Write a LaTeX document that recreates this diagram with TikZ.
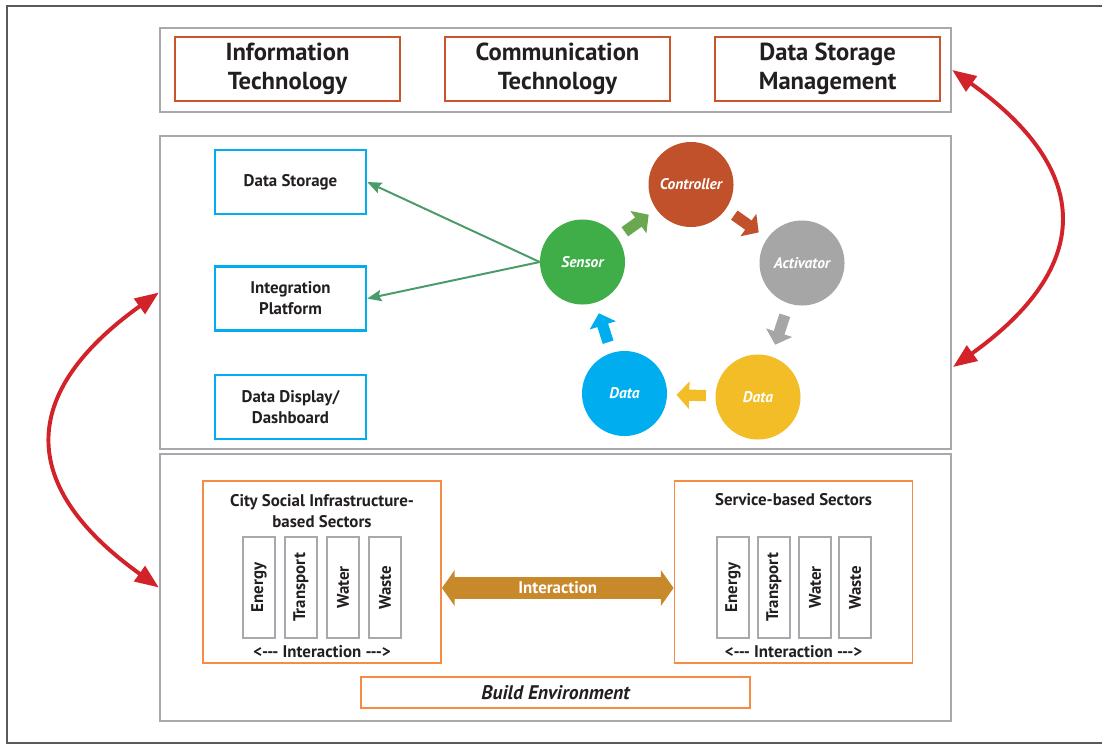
\documentclass[tikz,border=0pt]{standalone}
\usepackage{fontspec}
\setmainfont{PT Sans}
\usetikzlibrary{arrows.meta, positioning, calc}
\definecolor{cInk}{HTML}{231F20}
\definecolor{cFrame}{HTML}{58595B}
\definecolor{cPanel}{HTML}{A7A9AC}
\definecolor{cRust}{HTML}{C8552B}
\definecolor{cSky}{HTML}{00AEEF}
\definecolor{cLeaf}{HTML}{3FAE49}
\definecolor{cLime}{HTML}{6AA84F}
\definecolor{cBrick}{HTML}{C0512A}
\definecolor{cAsh}{HTML}{A6A6A6}
\definecolor{cSun}{HTML}{F2BD26}
\definecolor{cLink}{HTML}{4A9A6A}
\definecolor{cRed}{HTML}{D2232A}
\definecolor{cOrange}{HTML}{F68B45}
\definecolor{cGold}{HTML}{C8892B}
\tikzset{
  frame/.style={draw=cFrame, line width=1.4pt},
  panel/.style={rectangle, draw=cPanel, line width=1.5pt, inner sep=0pt,
    minimum width=19.775cm},
  techbox/.style={rectangle, draw=cRust, line width=1.4pt,
    minimum width=5.625cm, minimum height=1.6cm, align=center, text=cInk,
    font=\fontsize{17.5}{20.5}\selectfont\bfseries},
  appbox/.style={rectangle, draw=cSky, line width=1.8pt,
    minimum width=3.775cm, minimum height=1.6cm, align=center, text=cInk,
    font=\fontsize{12}{15}\selectfont\bfseries},
  stage/.style={circle, fill=#1, minimum size=2.125cm, inner sep=0pt,
    text=white, font=\fontsize{11}{13}\selectfont\bfseries\itshape},
  turn/.style={draw=#1, line width=8pt,
    -{Triangle[length=9pt, width=19pt]}},
  flow/.style={draw=cLink, line width=1.4pt,
    -{Stealth[length=10pt, width=8pt, inset=1.5pt]}},
  swap/.style={draw=cRed, line width=2.8pt,
    {Triangle[length=17pt, width=13pt]}-{Triangle[length=17pt, width=13pt]}},
  sectorbox/.style={rectangle, draw=cOrange, line width=1.3pt,
    minimum width=5.95cm, minimum height=4.55cm},
  bar/.style={rectangle, draw=cPanel, line width=1.3pt, rotate=90,
    minimum width=2.525cm, minimum height=0.8cm, inner sep=0pt, text=cInk,
    font=\fontsize{12}{14}\selectfont\bfseries},
  caption/.style={align=center, text=cInk,
    font=\fontsize{12}{15.5}\selectfont\bfseries},
  link/.style={draw=cGold, line width=15pt,
    {Triangle[length=9pt, width=25pt]}-{Triangle[length=9pt, width=25pt]}},
}

\begin{document}
\begin{tikzpicture}[x=0.025cm, y=-0.025cm]

  \useasboundingbox (0,0) rectangle (1102,745);
  \draw[frame] (1102,6) -- (7,6) -- (7,743) -- (1102,743);

  \node[panel, minimum height=2.1cm] (toppanel) at (555.5,70) {};
  \node[panel, minimum height=7.825cm] (midpanel) at (555.5,292.5) {};
  \node[panel, minimum height=6.675cm] (botpanel) at (555.5,587.5) {};

  \node[techbox] (it) at (287.5,69) {Information\\Technology};
  \node[techbox, right=1.075cm of it] (ct) {Communication\\Technology};
  \node[techbox, right=1.075cm of ct] (dsm) {Data Storage\\Management};

  \node[appbox] (ds) at (290.5,182) {Data Storage};
  \node[appbox, below=1.25cm of ds] (ip) {Integration\\Platform};
  \node[appbox, below=1.05cm of ip] (dd) {Data Display/\\Dashboard};

  \node[stage=cBrick] (ctl) at (691,184.5) {Controller};
  \node[stage=cAsh] (act) at (802,263) {Activator};
  \node[stage=cSun] (dty) at (758,397) {Data};
  \node[stage=cSky] (dtb) at (624.5,393.5) {Data};
  \node[stage=cLeaf] (sen) at (582.5,262) {Sensor};

  \draw[turn=cLime]  ($(sen)!0.39!(ctl)$) -- ($(sen)!0.61!(ctl)$);
  \draw[turn=cBrick] ($(ctl)!0.39!(act)$) -- ($(ctl)!0.61!(act)$);
  \draw[turn=cAsh]   ($(act)!0.39!(dty)$) -- ($(act)!0.61!(dty)$);
  \draw[turn=cSun]   ($(dty)!0.39!(dtb)$) -- ($(dty)!0.61!(dtb)$);
  \draw[turn=cSky]   ($(dtb)!0.39!(sen)$) -- ($(dtb)!0.61!(sen)$);

  \draw[flow] (sen.west) -- (ds.east);
  \draw[flow] (sen.west) -- (ip.east);

  \node[sectorbox] (lsec) at (322,572) {};
  \node[sectorbox] (rsec) at (793.5,572) {};
  \node[caption] (ltitle) at (322,511) {City Social Infrastructure-\\based Sectors};
  \node[caption] (rtitle) at (793.5,500) {Service-based Sectors};

  \node[bar] (le) at (259,587.5) {Energy};
  \node[bar] (lt) at (301,587.5) {Transport};
  \node[bar] (lw) at (343,587.5) {Water};
  \node[bar] (lx) at (385,587.5) {Waste};
  \node[bar] (re) at (733,587.5) {Energy};
  \node[bar] (rt) at (774,587.5) {Transport};
  \node[bar] (rw) at (815,587.5) {Water};
  \node[bar] (rx) at (855,587.5) {Waste};

  \node[caption] (linter) at (322,652) {<-{}-{}- Interaction -{}-{}->};
  \node[caption] (rinter) at (793.5,652) {<-{}-{}- Interaction -{}-{}->};

  \draw[link] ([yshift=-0.4cm]lsec.east) -- ([yshift=-0.4cm]rsec.west)
    node[midway, text=white, font=\fontsize{12}{14}\selectfont\bfseries] (inter) {Interaction};

  \node[rectangle, draw=cOrange, line width=1.3pt, minimum width=9.725cm,
    minimum height=0.775cm, text=cInk,
    font=\fontsize{14}{16}\selectfont\bfseries\itshape] (build) at (555.5,692.5) {Build Environment};

  \coordinate (midR) at (953,367);
  \draw[swap] (toppanel.east) .. controls +(141,101) and +(141,-101) .. (midR);
  \draw[swap] (midpanel.west) .. controls +(-141,101) and +(-141,-101) .. (botpanel.west);

\end{tikzpicture}
\end{document}
